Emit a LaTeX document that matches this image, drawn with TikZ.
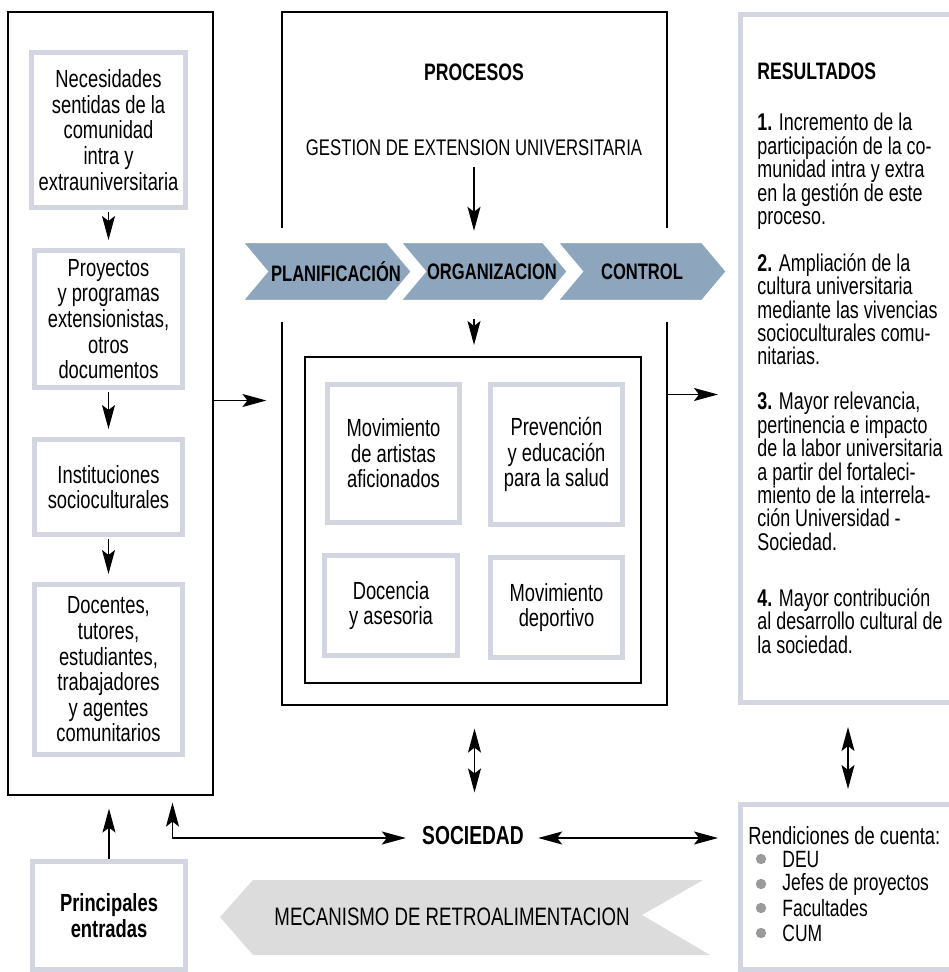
\documentclass[tikz,border=0pt]{standalone}
\usepackage{fontspec}
\setmainfont{Liberation Sans}[FakeStretch=0.74]
\usetikzlibrary{arrows.meta,shapes.symbols,positioning}

\definecolor{boxgray}{HTML}{D3D6E0}
\definecolor{chevblue}{HTML}{8EA6BD}
\definecolor{bannergray}{HTML}{DCDCDC}
\definecolor{dotgray}{HTML}{9A9A9A}

\newcommand\boxfont{\fontsize{12.4}{12.8}\selectfont}
\newcommand\resfont{\fontsize{12.1}{11.7}\selectfont}
\newcommand\chevtext[2]{\makebox[0pt]{\hspace*{#1}#2}}

\tikzset{
  frame/.style={draw=black, line width=0.6pt},
  graybox/.style={draw=boxgray, line width=2.5pt, fill=white, align=center, font=\boxfont},
  chev/.style={signal, signal from=west, signal to=east, signal pointer angle=100,
    fill=chevblue, draw=white, line width=1.2pt, minimum height=29.5pt,
    inner xsep=0pt, font=\bfseries\fontsize{11.2}{12}\selectfont},
  restext/.style={anchor=north west, inner sep=0pt, align=left, font=\resfont},
  arr/.style={-{Stealth[length=12pt,width=6.5pt,inset=2.5pt]}, line width=0.65pt},
  dblarr/.style={{Stealth[length=12pt,width=6.5pt,inset=2.5pt]}-{Stealth[length=12pt,width=6.5pt,inset=2.5pt]}, line width=0.65pt},
}

\begin{document}
\begin{tikzpicture}[x=0.5pt,y=-0.5pt]

\useasboundingbox (0,0) rectangle (948,972);

% entradas
\node[frame, minimum width=102.5pt, minimum height=391.5pt] (lframe) at (110.5,403.5) {};
\node[graybox, minimum width=74pt, minimum height=77.5pt] (nec) at (108.5,130)
  {Necesidades\\sentidas de la\\comunidad\\intra y\\extrauniversitaria};
\node[graybox, minimum width=74pt, minimum height=68.5pt] (proy) at (108.5,319)
  {Proyectos\\y programas\\extensionistas,\\otros\\documentos};
\node[graybox, minimum width=74pt, minimum height=47.5pt] (inst) at (108.5,487)
  {Instituciones\\socioculturales};
\node[graybox, minimum width=74pt, minimum height=85pt] (doc) at (108.5,669.5)
  {Docentes,\\tutores,\\estudiantes,\\trabajadores\\y agentes\\comunitarios};

\draw[arr, shorten <=1pt, shorten >=4pt] (nec.south) -- (proy.north);
\draw[arr, shorten <=1pt, shorten >=4pt] (proy.south) -- (inst.north);
\draw[arr, shorten <=1pt, shorten >=4pt] (inst.south) -- (doc.north);

% procesos
\node[frame, minimum width=192.5pt, minimum height=346.5pt] (mframe) at (474.5,358.5) {};
\fill[white] (276,228) rectangle (288,322);
\fill[white] (661,228) rectangle (673,322);
\node[font=\bfseries\fontsize{11.9}{14}\selectfont] (procesos) at (474,72) {PROCESOS};
\node[font=\fontsize{11.3}{12}\selectfont] (gestion) at (474,148) {GESTION DE EXTENSION UNIVERSITARIA};

\node[chev, minimum width=85pt] (plan) at (327,271.5) {\chevtext{9pt}{PLANIFICACIÓN}};
\node[chev, minimum width=84pt] (org) at (484,271.5) {\chevtext{8pt}{ORGANIZACION}};
\node[chev, minimum width=85pt] (ctrl) at (642,271.5) {\chevtext{0pt}{CONTROL}};

\draw[arr, shorten <=2pt, shorten >=5pt] (gestion.south) -- (gestion.south |- org.north);
\draw[arr, shorten <=8.5pt, shorten >=6pt] (gestion.south |- org.south) -- (gestion.south |- 0,357);

\node[frame, minimum width=168pt, minimum height=163pt] (inner) at (473,520) {};
\node[graybox, minimum width=66pt, minimum height=69pt] (artistas) at (393.5,453.5)
  {Movimiento\\de artistas\\aficionados};
\node[graybox, minimum width=66pt, minimum height=70pt] (salud) at (556.5,454.5)
  {Prevención\\y educación\\para la salud};
\node[graybox, minimum width=66.5pt, minimum height=50pt] (docencia) at (391,605.5)
  {Docencia\\y asesoria};
\node[graybox, minimum width=66pt, minimum height=50pt] (deporte) at (556.5,607.5)
  {Movimiento\\deportivo};

% resultados
\node[graybox, minimum width=107.5pt, minimum height=344pt] (res) at (848,358.5) {};
\node[restext, font=\bfseries\fontsize{11.9}{12}\selectfont] (restit) at (757,62) {RESULTADOS};
\node[restext] (r1) at (757,113) {\textbf{1.} Incremento de la\\participación de la co-\\munidad intra y extra\\en la gestión de este\\proceso.};
\node[restext] (r2) at (757,253) {\textbf{2.} Ampliación de la\\cultura universitaria\\mediante las vivencias\\socioculturales comu-\\nitarias.};
\node[restext] (r3) at (757,392) {\textbf{3.} Mayor relevancia,\\pertinencia e impacto\\de la labor universitaria\\a partir del fortaleci-\\miento de la interrela-\\ción Universidad -\\Sociedad.};
\node[restext] (r4) at (757,588) {\textbf{4.} Mayor contribución\\al desarrollo cultural de\\la sociedad.};

\draw[arr] ([yshift=1.5pt]lframe.east) -- ([yshift=1.5pt,xshift=-7.5pt]lframe.east -| mframe.west);
\draw[arr, shorten >=10pt] ([yshift=-18pt]mframe.east) -- ([yshift=-18pt]mframe.east -| res.west);

% sociedad
\node[inner sep=0pt, font=\bfseries\fontsize{13}{14}\selectfont] (sociedad) at (473,836) {SOCIEDAD};

\node[graybox, minimum width=107.5pt, minimum height=82.5pt] (rend) at (848,887) {};
\node[restext, font=\fontsize{12.4}{12.2}\selectfont] (rendtit) at (748,826) {Rendiciones de cuenta:};
\foreach \y/\t [count=\i] in {859/DEU, 884/Jefes de proyectos, 908/Facultades, 933/CUM} {
  \fill[dotgray] (761,\y) circle (2.6pt);
  \node[anchor=west, inner sep=0pt, font=\fontsize{11.8}{12.2}\selectfont] (item\i) at (782,\y) {\t};
}

\draw[dblarr, shorten <=11.5pt, shorten >=17pt] (mframe.south) -- (mframe.south |- sociedad.north);
\draw[dblarr, shorten <=11pt, shorten >=6.5pt] (res.south) -- (res.south |- rend.north);
\draw[dblarr, shorten <=7pt, shorten >=10pt] ([yshift=-1pt]sociedad.east) -- ([yshift=-1pt]sociedad.east -| rend.west);
\draw[dblarr, shorten <=8pt, shorten >=3.5pt] ([yshift=-1pt]sociedad.west) -| ([xshift=31pt]lframe.south);

% entradas principales
\node[graybox, font=\bfseries\boxfont, minimum width=76.5pt, minimum height=54pt] (princ) at (109,915.5)
  {Principales\\entradas};
\draw[arr, shorten >=6.5pt] (princ.north) -- (princ.north |- lframe.south);

% retroalimentacion
\fill[bannergray] (220,917) -- (253,880) -- (703,880) -- (642,915) -- (710,955) -- (253,955) -- cycle;
\node[font=\fontsize{12.6}{15}\selectfont] (retro) at (452,917) {MECANISMO DE RETROALIMENTACION};

\end{tikzpicture}
\end{document}
